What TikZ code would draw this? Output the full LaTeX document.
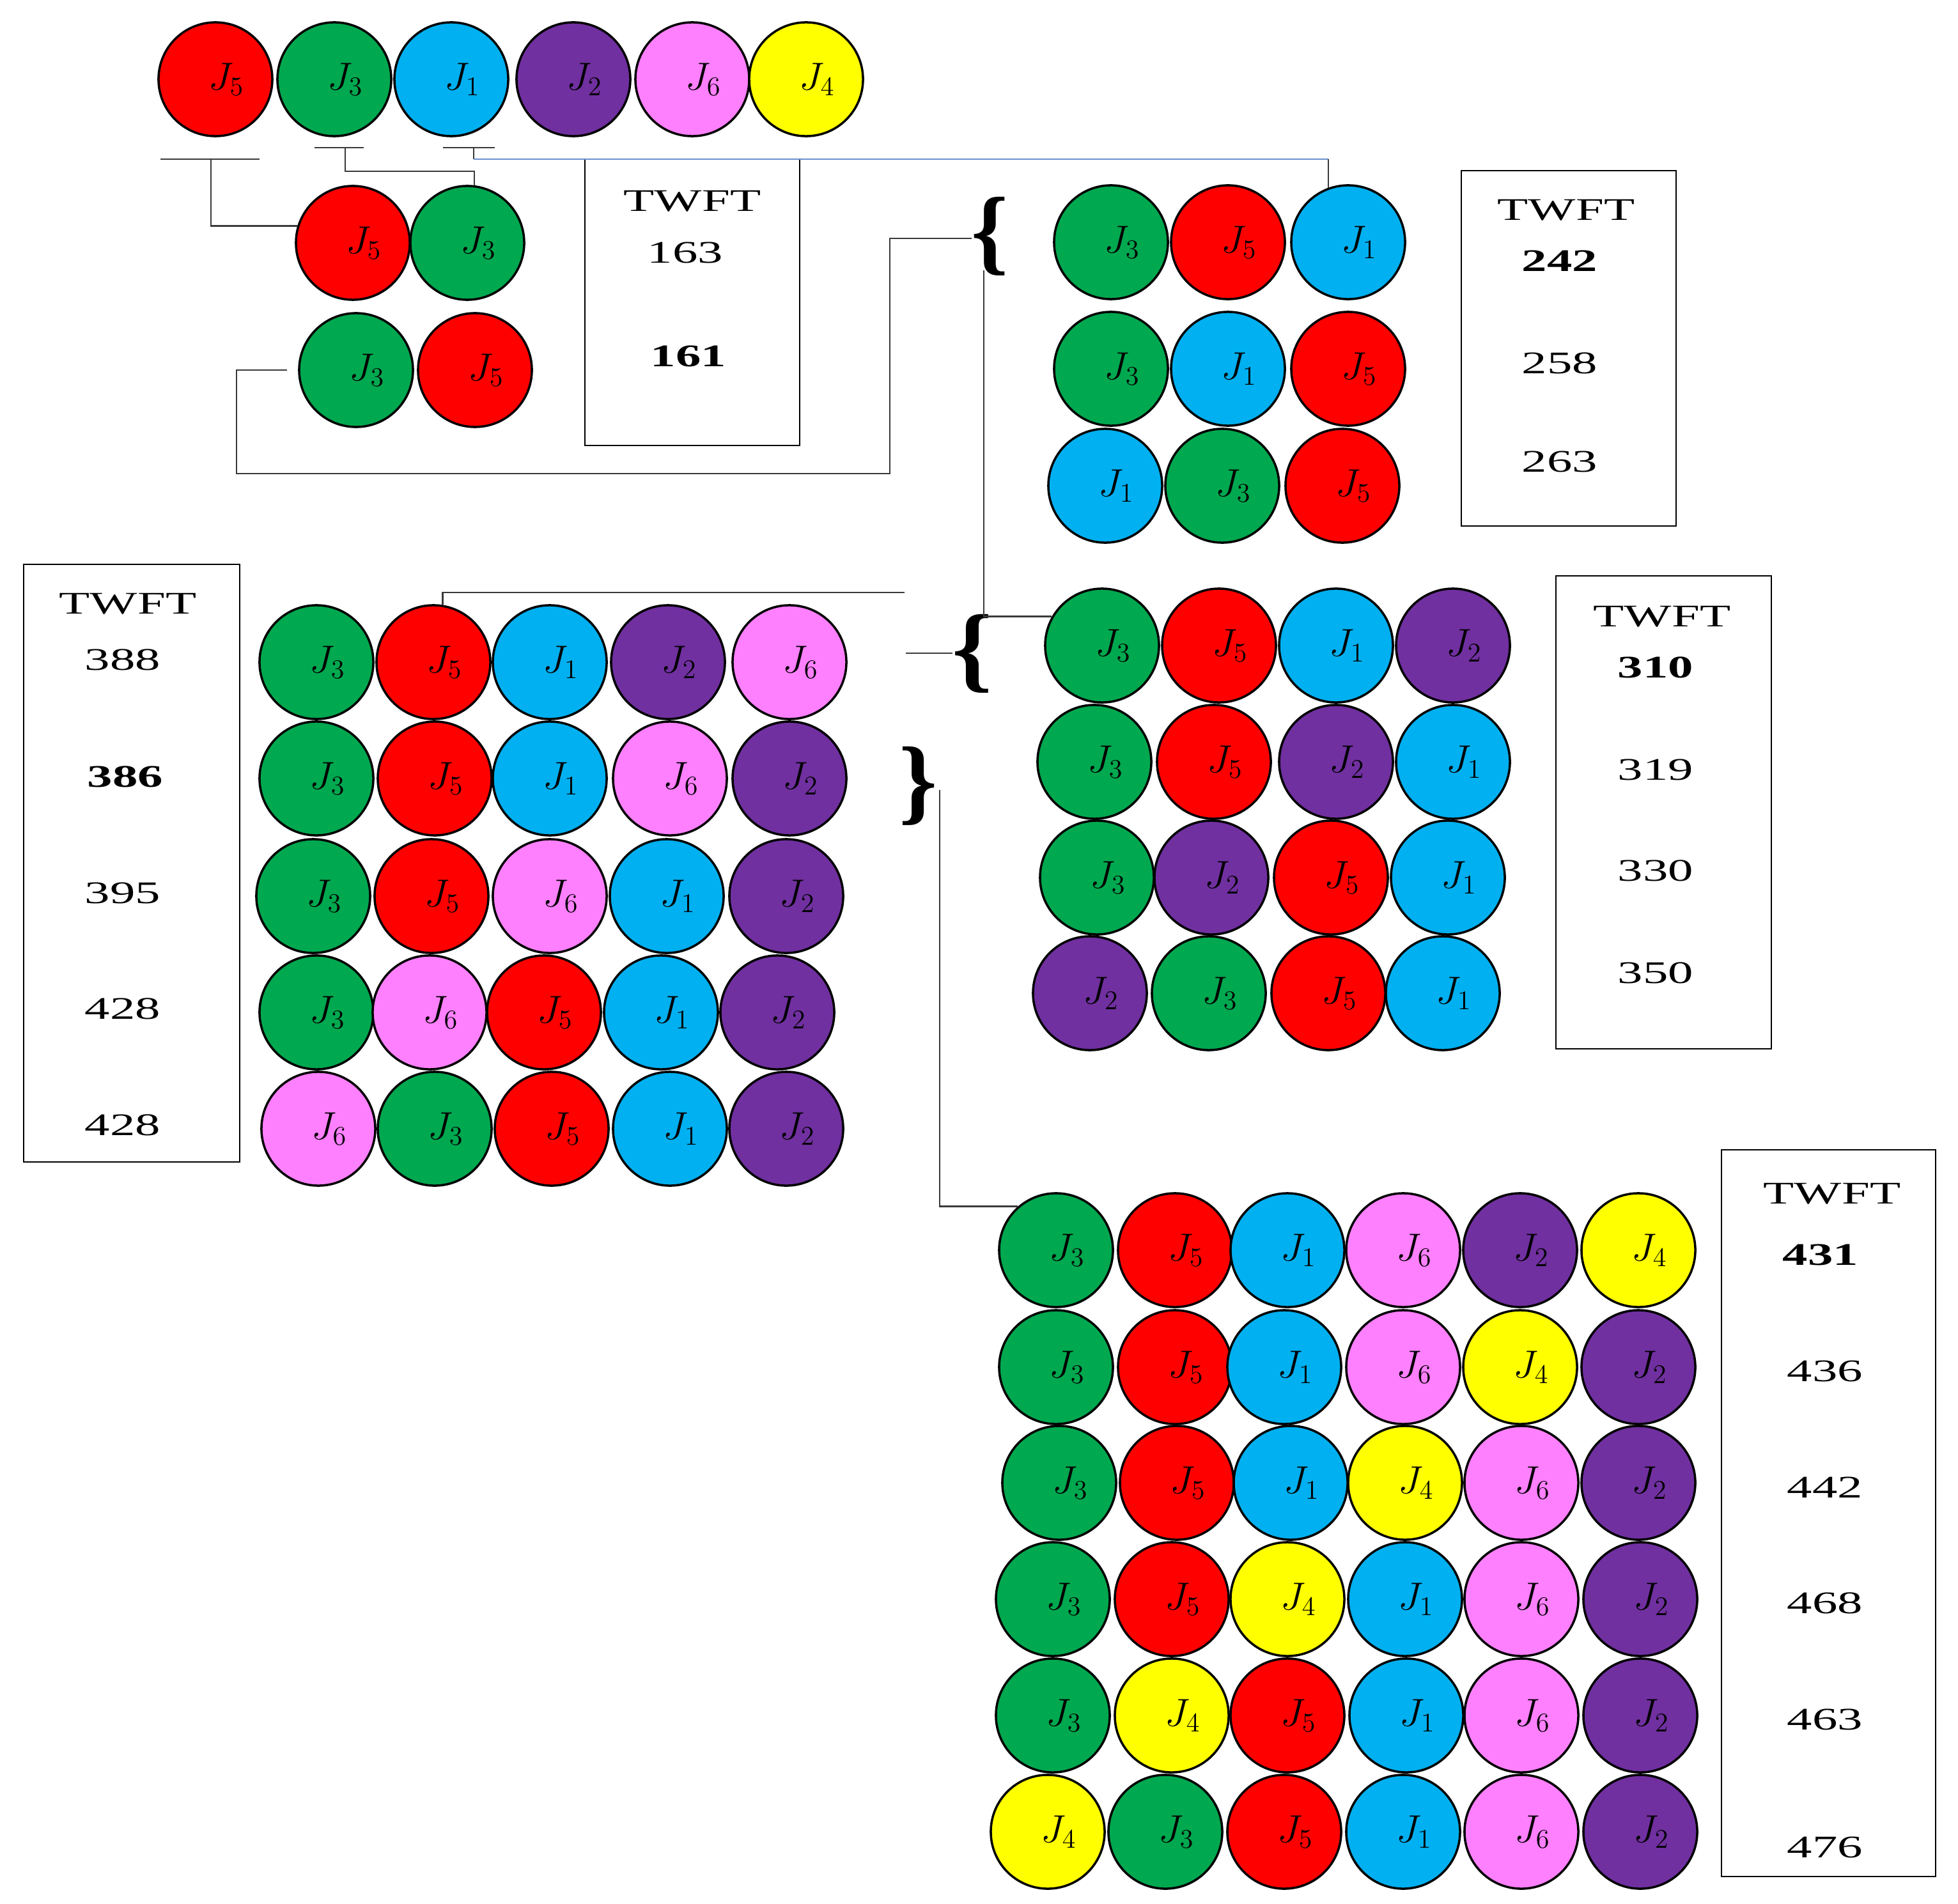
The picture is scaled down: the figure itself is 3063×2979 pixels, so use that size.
\documentclass[tikz,border=0pt]{standalone}
\usepackage{fontspec}
\setmainfont{Liberation Serif}
\usepackage{graphicx}
\definecolor{cred}{HTML}{FF0000}
\definecolor{cgreen}{HTML}{00A84F}
\definecolor{cblue}{HTML}{00B0F0}
\definecolor{cpurple}{HTML}{7030A0}
\definecolor{cpink}{HTML}{FF80FF}
\definecolor{cyellow}{HTML}{FFFF00}
\definecolor{linegray}{HTML}{3A3A3A}
\definecolor{lineblue}{HTML}{6A8FD0}
\tikzset{
  jc/.style={circle, draw=black, line width=1pt, minimum size=1.78cm, inner sep=0pt,
             font=\fontsize{17.5}{20}\selectfont},
  j1/.style={fill=cblue}, j2/.style={fill=cpurple}, j3/.style={fill=cgreen},
  j4/.style={fill=cyellow}, j5/.style={fill=cred}, j6/.style={fill=cpink},
  conn/.style={draw=linegray, line width=0.8pt},
  blueline/.style={draw=lineblue, line width=0.8pt},
  boxst/.style={draw=black, line width=0.8pt},
  tw/.style={inner sep=0pt, font=\fontsize{14}{16}\selectfont},
  bracest/.style={inner sep=0pt, font=\bfseries}
}
\newcommand{\Jc}[4]{\node[jc, j#4] (#1) at (#2,#3) {\hspace*{0.35cm}$J_{#4}$};}
\newcommand{\Tw}[4]{\node[tw] (#1) at (#2,#3) {\scalebox{1.6}[1]{#4}};}
\begin{document}
\begin{tikzpicture}[x=0.01cm, y=-0.01cm]
\useasboundingbox (0,0) rectangle (3063,2979);
% top row
\Jc{T1}{337}{124}{5}\Jc{T2}{523}{124}{3}\Jc{T3}{706}{124}{1}
\Jc{T4}{897}{124}{2}\Jc{T5}{1083}{124}{6}\Jc{T6}{1261}{124}{4}
% two-job rows
\Jc{P1}{552}{380}{5}\Jc{P2}{731}{380}{3}
\Jc{Q1}{557}{579}{3}\Jc{Q2}{743}{579}{5}
% three-job block
\Jc{A11}{1738}{379}{3}\Jc{A12}{1921}{379}{5}\Jc{A13}{2109}{379}{1}
\Jc{A21}{1738}{577}{3}\Jc{A22}{1921}{577}{1}\Jc{A23}{2109}{577}{5}
\Jc{A31}{1729}{760}{1}\Jc{A32}{1912}{760}{3}\Jc{A33}{2100}{760}{5}
% four-job block
\Jc{B11}{1724}{1010}{3}\Jc{B12}{1907}{1010}{5}\Jc{B13}{2090}{1010}{1}\Jc{B14}{2273}{1010}{2}
\Jc{B21}{1712}{1192}{3}\Jc{B22}{1899}{1192}{5}\Jc{B23}{2090}{1192}{2}\Jc{B24}{2273}{1192}{1}
\Jc{B31}{1716}{1373}{3}\Jc{B32}{1895}{1373}{2}\Jc{B33}{2082}{1373}{5}\Jc{B34}{2265}{1373}{1}
\Jc{B41}{1705}{1554}{2}\Jc{B42}{1891}{1554}{3}\Jc{B43}{2078}{1554}{5}\Jc{B44}{2257}{1554}{1}
% five-job block
\Jc{E11}{495}{1036}{3}\Jc{E12}{678}{1036}{5}\Jc{E13}{860}{1036}{1}\Jc{E14}{1045}{1036}{2}\Jc{E15}{1235}{1036}{6}
\Jc{E21}{495}{1218}{3}\Jc{E22}{680}{1218}{5}\Jc{E23}{860}{1218}{1}\Jc{E24}{1048}{1218}{6}\Jc{E25}{1235}{1218}{2}
\Jc{E31}{490}{1402}{3}\Jc{E32}{675}{1402}{5}\Jc{E33}{860}{1402}{6}\Jc{E34}{1043}{1402}{1}\Jc{E35}{1230}{1402}{2}
\Jc{E41}{495}{1584}{3}\Jc{E42}{672}{1584}{6}\Jc{E43}{851}{1584}{5}\Jc{E44}{1034}{1584}{1}\Jc{E45}{1216}{1584}{2}
\Jc{E51}{498}{1766}{6}\Jc{E52}{680}{1766}{3}\Jc{E53}{863}{1766}{5}\Jc{E54}{1048}{1766}{1}\Jc{E55}{1230}{1766}{2}
% six-job block
\Jc{F11}{1652}{1956}{3}\Jc{F12}{1838}{1956}{5}\Jc{F13}{2014}{1956}{1}\Jc{F14}{2195}{1956}{6}\Jc{F15}{2378}{1956}{2}\Jc{F16}{2563}{1956}{4}
\Jc{F21}{1652}{2139}{3}\Jc{F22}{1838}{2139}{5}\Jc{F23}{2009}{2139}{1}\Jc{F24}{2195}{2139}{6}\Jc{F25}{2378}{2139}{4}\Jc{F26}{2563}{2139}{2}
\Jc{F31}{1657}{2320}{3}\Jc{F32}{1841}{2320}{5}\Jc{F33}{2019}{2320}{1}\Jc{F34}{2198}{2320}{4}\Jc{F35}{2380}{2320}{6}\Jc{F36}{2563}{2320}{2}
\Jc{F41}{1647}{2502}{3}\Jc{F42}{1833}{2502}{5}\Jc{F43}{2014}{2502}{4}\Jc{F44}{2198}{2502}{1}\Jc{F45}{2380}{2502}{6}\Jc{F46}{2566}{2502}{2}
\Jc{F51}{1647}{2684}{3}\Jc{F52}{1833}{2684}{4}\Jc{F53}{2014}{2684}{5}\Jc{F54}{2200}{2684}{1}\Jc{F55}{2380}{2684}{6}\Jc{F56}{2566}{2684}{2}
\Jc{F61}{1639}{2866}{4}\Jc{F62}{1823}{2866}{3}\Jc{F63}{2009}{2866}{5}\Jc{F64}{2195}{2866}{1}\Jc{F65}{2380}{2866}{6}\Jc{F66}{2566}{2866}{2}
% TWFT boxes
\draw[boxst] (915,249) rectangle (1251,697);
\Tw{t1h}{1083}{315}{TWFT}\Tw{t1a}{1072}{395}{163}\Tw{t1b}{1077}{557}{\textbf{161}}
\draw[boxst] (2286,267) rectangle (2622,823);
\Tw{t2h}{2450}{329}{TWFT}\Tw{t2a}{2440}{408}{\textbf{242}}\Tw{t2b}{2440}{568}{258}\Tw{t2c}{2440}{722}{263}
\draw[boxst] (2434,901) rectangle (2771,1641);
\Tw{t3h}{2600}{965}{TWFT}\Tw{t3a}{2590}{1044}{\textbf{310}}\Tw{t3b}{2590}{1204}{319}\Tw{t3c}{2590}{1362}{330}\Tw{t3d}{2590}{1522}{350}
\draw[boxst] (37,883) rectangle (375,1818);
\Tw{t4h}{200}{945}{TWFT}\Tw{t4a}{192}{1032}{388}\Tw{t4b}{196}{1215}{\textbf{386}}\Tw{t4c}{192}{1397}{395}\Tw{t4d}{192}{1578}{428}\Tw{t4e}{192}{1760}{428}
\draw[boxst] (2693,1799) rectangle (3028,2936);
\Tw{t5h}{2866}{1868}{TWFT}\Tw{t5a}{2848}{1963}{\textbf{431}}\Tw{t5b}{2855}{2145}{436}\Tw{t5c}{2855}{2327}{442}\Tw{t5d}{2855}{2508}{468}\Tw{t5e}{2855}{2690}{463}\Tw{t5f}{2855}{2890}{476}
% braces
\node[bracest] (br1) at (1549,370) {\resizebox*{0.58cm}{1.23cm}{\{}};
\node[bracest] (br2) at (1521,1023) {\resizebox*{0.63cm}{1.23cm}{\{}};
\node[bracest] (br3) at (1437,1230) {\resizebox*{0.60cm}{1.23cm}{\}}};
% coordinates
\coordinate (bar1a) at (251,249); \coordinate (bar1b) at (406,249); \coordinate (bar1m) at (330,249);
\coordinate (bar2a) at (492,231); \coordinate (bar2b) at (569,231); \coordinate (bar2m) at (540,231);
\coordinate (bar3a) at (693,231); \coordinate (bar3b) at (774,231); \coordinate (bar3m) at (741,231);
\coordinate (blueL) at (741,249);
\coordinate (lp1) at (370,741); \coordinate (lp2) at (1392,373);
\coordinate (br1tip) at (1520,373); \coordinate (br1bot) at (1539,423);
\coordinate (ln5end) at (1415,927);
\coordinate (ln6start) at (1417,1022); \coordinate (br2tip) at (1490,1022);
\coordinate (br3tip) at (1470,1236);
% connectors
\draw[conn] (bar1a) -- (bar1b);
\draw[conn] (bar1m) |- (P1.163);
\draw[conn] (bar2a) -- (bar2b);
\draw[conn] (bar2m) -- ++(0,37) -| (P2.83);
\draw[conn] (bar3a) -- (bar3b);
\draw[conn] (bar3m) -- (blueL);
\draw[blueline] (blueL) -- (blueL -| A13.110);
\draw[conn] (blueL -| A13.110) -- (A13.110);
\draw[conn, shorten <=0.17cm] (Q1.west) -| (lp1) -| (lp2) -- (br1tip);
\draw[conn] (br1bot) |- (B11.150);
\draw[conn] (E12.81) |- (ln5end);
\draw[conn] (ln6start) -- (br2tip);
\draw[conn] (br3tip) |- (F11.131);
\end{tikzpicture}
\end{document}
